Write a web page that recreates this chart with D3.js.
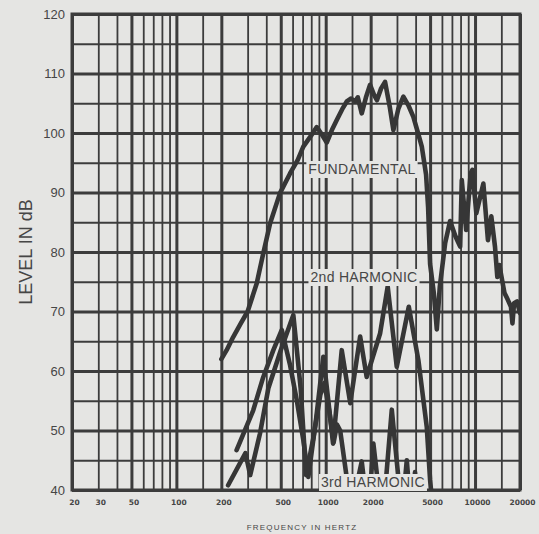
<!DOCTYPE html>
<html>
<head>
<meta charset="utf-8">
<script src="https://cdn.jsdelivr.net/npm/d3@7"></script>
<style>
  html, body { margin: 0; padding: 0; background: #e5e5e3; }
  svg { display: block; }
  text { font-family: "Liberation Sans", Arial, sans-serif; fill: #464646; }
</style>
</head>
<body>
<svg id="svg" width="539" height="534"></svg>
<script>
// values: [frequency Hz, level dB]
const fundamental = [
  [200, 62], [217, 63.5], [240, 65.7], [270, 68], [300, 70], [345, 74.7], [382, 79.8],
  [424, 84.8], [494, 89.9], [577, 93.2], [650, 95.5], [708, 97.7], [800, 99.6], [871, 101],
  [940, 99.8], [1016, 98.4], [1100, 100.5], [1186, 102.2], [1290, 104], [1384, 105.3],
  [1480, 105.8], [1573, 105.3], [1640, 106], [1743, 103.3], [1860, 106], [1982, 108.1],
  [2100, 106.5], [2203, 105.5], [2350, 107.5], [2497, 108.6], [2680, 104.5], [2840, 100.5],
  [3060, 104], [3311, 106.1], [3600, 104.5], [3864, 102.7], [4150, 100], [4400, 97.7],
  [4700, 93], [4850, 87.5], [5000, 78], [5300, 73], [5545, 67], [5810, 74.2], [6310, 81.5],
  [6805, 85.2], [7400, 82.6], [7950, 80.9], [8150, 92.1], [8720, 83.7], [9340, 93.2],
  [9600, 93.8], [10200, 86.5], [11370, 91.5], [12200, 82], [12850, 86], [13600, 80.9],
  [14100, 75.8], [14550, 77.8], [15750, 73.1], [16550, 72], [17400, 70.8], [17800, 68],
  [18250, 71.4], [19100, 71.7], [20000, 69.7]
];
const secondHarmonic = [
  [253, 46.7], [327, 53.4], [382, 59], [446, 63.5], [508, 66.9], [577, 61], [640, 55.1],
  [708, 48.4], [765, 42.2], [861, 51.8], [964, 62.4], [1040, 55.1], [1120, 47.8],
  [1280, 63.5], [1460, 54.6], [1700, 65.8], [1880, 59], [2312, 66.3], [2600, 74.2],
  [2990, 60.7], [3600, 70.8], [4175, 61.8], [4750, 50.6], [5000, 41.7], [5200, 37]
];
const thirdHarmonic = [
  [222, 40.8], [290, 46.2], [312, 42.5], [363, 49.5], [413, 57.1], [500, 63.5], [607, 69.4],
  [680, 57], [739, 42.5], [830, 49], [920, 56], [980, 58], [1060, 53], [1130, 48],
  [1190, 51], [1250, 50], [1420, 40], [1520, 37], [1650, 42], [1743, 44.8], [1833, 40],
  [1950, 37], [2085, 47.8], [2312, 38], [2500, 40], [2770, 53.5], [3150, 39], [3350, 40],
  [3491, 45], [3670, 38], [3850, 38], [3964, 43], [4100, 38]
];

const gridFreqs = [20, 30, 40, 50, 60, 70, 80, 90, 100, 150, 200, 300, 400, 500, 600, 700, 800, 900,
  1000, 1500, 2000, 3000, 4000, 5000, 6000, 7000, 8000, 9000, 10000, 15000, 20000];
const majorFreqs = [20, 50, 100, 200, 500, 1000, 2000, 5000, 10000, 20000];
const xTickLabels = [20, 30, 50, 100, 200, 500, 1000, 2000, 5000, 10000, 20000];
const gridLevels = d3.range(40, 121, 5);
const yTickLabels = [40, 50, 60, 70, 80, 90, 100, 110, 120];

const svg = d3.select('svg');
const plotLeft = 72, plotRight = 520, plotTop = 14, plotBottom = 490;

const x = d3.scaleLog().domain([20, 20000]).range([plotLeft, plotRight]);
const y = d3.scaleLinear().domain([40, 120]).range([plotBottom, plotTop]);

const ink = '#3c3c3c';
const paper = '#e5e5e3';

// grid
const vGrid = svg.append('g')
  .attr('transform', `translate(0,${plotBottom})`)
  .call(d3.axisBottom(x).tickValues(gridFreqs).tickSize(-(plotBottom - plotTop)).tickFormat(''));
vGrid.select('.domain').remove();
vGrid.selectAll('line')
  .attr('stroke', ink)
  .attr('stroke-width', (d) => (majorFreqs.includes(d) ? 3 : 1.8));

const hGrid = svg.append('g')
  .attr('transform', `translate(${plotLeft},0)`)
  .call(d3.axisLeft(y).tickValues(gridLevels).tickSize(-(plotRight - plotLeft)).tickFormat(''));
hGrid.select('.domain').remove();
hGrid.selectAll('line')
  .attr('stroke', ink)
  .attr('stroke-width', (d) => (d % 10 === 0 ? 2.8 : 1.8));

svg.append('rect')
  .attr('x', plotLeft).attr('y', plotTop)
  .attr('width', plotRight - plotLeft).attr('height', plotBottom - plotTop)
  .attr('fill', 'none').attr('stroke', ink).attr('stroke-width', 3);

// tick labels
const yAxis = svg.append('g')
  .attr('transform', `translate(${plotLeft - 7},0)`)
  .call(d3.axisLeft(y).tickValues(yTickLabels).tickSize(0).tickPadding(0));
yAxis.select('.domain').remove();
yAxis.selectAll('text')
  .style('font-size', '13px')
  .style('font-family', '"Liberation Sans", Arial, sans-serif')
  .attr('fill', '#4a4a4a');

const xAxis = svg.append('g')
  .attr('transform', `translate(2,${plotBottom + 10})`)
  .call(d3.axisBottom(x).tickValues(xTickLabels).tickSize(0).tickPadding(0).tickFormat(d3.format('d')));
xAxis.select('.domain').remove();
xAxis.selectAll('text')
  .style('font-size', '7.5px')
  .style('font-weight', 'bold')
  .style('font-family', '"DejaVu Sans", sans-serif')
  .attr('fill', '#555');

svg.append('text')
  .attr('x', 302).attr('y', 530)
  .attr('text-anchor', 'middle')
  .style('font-size', '8px')
  .style('letter-spacing', '1.2px')
  .attr('fill', '#555')
  .text('FREQUENCY IN HERTZ');

svg.append('text')
  .attr('transform', 'translate(32,252) rotate(-90)')
  .attr('text-anchor', 'middle')
  .style('font-size', '18px')
  .attr('fill', '#4a4a4a')
  .text('LEVEL IN dB');

// curves
svg.append('clipPath').attr('id', 'plot')
  .append('rect')
  .attr('x', plotLeft).attr('y', plotTop)
  .attr('width', plotRight - plotLeft).attr('height', plotBottom - plotTop);

const line = d3.line()
  .x((d) => x(d[0]))
  .y((d) => y(d[1]));

svg.append('g')
  .attr('clip-path', 'url(#plot)')
  .selectAll('path')
  .data([fundamental, secondHarmonic, thirdHarmonic])
  .join('path')
  .attr('d', line)
  .attr('fill', 'none')
  .attr('stroke', '#363636')
  .attr('stroke-width', 4.6)
  .attr('stroke-linejoin', 'round')
  .attr('stroke-linecap', 'round');

// curve labels on paper-coloured boxes
const labels = [
  { text: 'FUNDAMENTAL', cx: 362, cy: 169 },
  { text: '2nd HARMONIC', cx: 364, cy: 277 },
  { text: '3rd HARMONIC', cx: 373, cy: 482 }
];
labels.forEach((l) => {
  const g = svg.append('g');
  const t = g.append('text')
    .attr('x', l.cx).attr('y', l.cy)
    .attr('text-anchor', 'middle')
    .attr('dominant-baseline', 'central')
    .style('font-size', '14px')
    .style('letter-spacing', '0.3px')
    .attr('fill', '#4a4a4a')
    .text(l.text);
  const b = t.node().getBBox();
  g.insert('rect', 'text')
    .attr('x', b.x - 2).attr('y', l.cy - 8)
    .attr('width', b.width + 4).attr('height', 17)
    .attr('fill', paper);
});
</script>
</body>
</html>
